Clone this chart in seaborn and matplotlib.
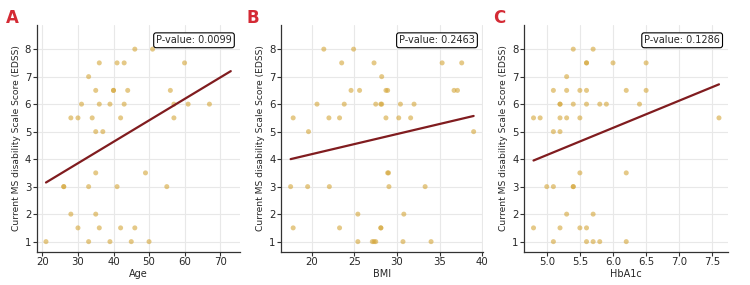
import matplotlib
matplotlib.use("Agg")
import matplotlib.pyplot as plt
import seaborn as sns
import numpy as np
import pandas as pd

#  Data 
age = [21, 26, 26, 28, 28, 30, 30, 31, 33, 33, 33, 34, 35, 35, 35, 35, 36, 36,
       36, 37, 39, 39, 40, 40, 41, 41, 42, 42, 43, 43, 44, 45, 46, 46, 49, 50,
       51, 55, 56, 57, 57, 60, 61, 67]
edss_age = [1, 3, 3, 2, 5.5, 1.5, 5.5, 6, 7, 3, 1, 5.5, 6.5, 5, 3.5, 2, 7.5, 6,
            1.5, 5, 6, 1, 6.5, 6.5, 7.5, 3, 5.5, 1.5, 7.5, 6, 6.5, 1, 8, 1.5,
            3.5, 1, 8, 3, 6.5, 6, 5.5, 7.5, 6, 6]

bmi = [17.5, 17.8, 17.8, 19.5, 19.6, 20.6, 21.4, 22.0, 22.05, 23.25, 23.25,
       23.5, 23.8, 24.6, 24.9, 25.4, 25.4, 25.6, 27.1, 27.3, 27.5, 27.3, 27.5,
       28.1, 28.2, 28.1, 28.1, 28.2, 28.7, 28.7, 28.9, 28.9, 29.0, 29.05, 30.2,
       30.4, 30.7, 30.8, 31.6, 32.0, 33.3, 34.0, 35.3, 36.7, 37.1, 37.6, 39.0]
edss_bmi = [3, 5.5, 1.5, 3, 5, 6, 8, 5.5, 3, 5.5, 1.5,
            7.5, 6, 6.5, 8, 2, 1, 6.5, 1, 1, 1, 7.5, 6,
            6, 6, 1.5, 1.5, 7, 5.5, 6.5, 6.5, 3.5, 3.5, 3, 5.5,
            6, 1, 2, 5.5, 6, 3, 1, 7.5, 6.5, 6.5, 7.5, 5]

hba1c = [4.8, 4.8, 4.9, 5.0, 5.1, 5.1, 5.1, 5.1, 5.2, 5.2, 5.2, 5.2, 5.2, 5.3,
         5.3, 5.3, 5.3, 5.4, 5.4, 5.4, 5.4, 5.5, 5.5, 5.5, 5.5, 5.6, 5.6, 5.6,
         5.6, 5.6, 5.6, 5.7, 5.7, 5.7, 5.8, 5.8, 5.9, 6.0, 6.2, 6.2, 6.2, 6.4,
         6.5, 6.5, 7.6]
edss_hba1c = [5.5, 1.5, 5.5, 3, 6.5, 5, 3, 1, 6, 6, 5.5, 5, 1.5, 7,
              6.5, 5.5, 2, 8, 6, 3, 3, 6.5, 5.5, 3.5, 1.5, 7.5, 7.5, 6.5,
              6, 1.5, 1, 8, 2, 1, 6, 1, 6, 7.5, 6.5, 3.5, 1, 6,
              7.5, 6.5, 5.5]

# fitted lines (end points)
age_fit_x, age_fit_y = [21, 73], [3.15, 7.2]
bmi_fit_x, bmi_fit_y = [17.5, 39.0], [4.0, 5.57]
hba1c_fit_x, hba1c_fit_y = [4.8, 7.6], [3.95, 6.72]

p_values = ["0.0099", "0.2463", "0.1286"]
x_labels = ["Age", "BMI", "HbA1c"]
panel_letters = ["A", "B", "C"]

#  Plot 
sns.set_theme(style="whitegrid")
plt.rcParams["font.family"] = ["DejaVu Sans"]

fig = plt.figure(figsize=(7.5, 2.85), dpi=100)
positions = [[0.049, 0.116, 0.271, 0.796],
             [0.375, 0.116, 0.269, 0.796],
             [0.699, 0.116, 0.272, 0.796]]
xlims = [(18.4, 75.6), (16.4, 40.1), (4.66, 7.74)]
xticks = [[20, 30, 40, 50, 60, 70], [20, 25, 30, 35, 40],
          [5.0, 5.5, 6.0, 6.5, 7.0, 7.5]]
panels = [(age, edss_age, age_fit_x, age_fit_y),
          (bmi, edss_bmi, bmi_fit_x, bmi_fit_y),
          (hba1c, edss_hba1c, hba1c_fit_x, hba1c_fit_y)]
letter_x = [0.008, 0.328, 0.657]

for i, (xs, ys, fx, fy) in enumerate(panels):
    ax = fig.add_axes(positions[i])
    sns.scatterplot(x=xs, y=ys, ax=ax, color="#d4a537", alpha=0.6,
                    s=13, edgecolor="none")
    sns.lineplot(x=fx, y=fy, ax=ax, color="#801c1f", linewidth=1.6)
    ax.set_xlim(*xlims[i])
    ax.set_ylim(0.625, 8.875)
    ax.set_xticks(xticks[i])
    if i == 2:
        ax.set_xticklabels([f"{t:.1f}" for t in xticks[i]])
    ax.set_yticks(range(1, 9))
    ax.set_xlabel(x_labels[i], fontsize=7, labelpad=1)
    ax.set_ylabel("Current MS disability Scale Score (EDSS)", fontsize=6.6,
                  labelpad=3)
    ax.tick_params(labelsize=7.3, length=3, width=0.8, color="#333333", pad=1,
                   left=True, bottom=True)
    ax.grid(True, color="#e8e8e8", linewidth=0.8)
    for side in ["top", "right"]:
        ax.spines[side].set_visible(False)
    for side in ["left", "bottom"]:
        ax.spines[side].set_color("#333333")
        ax.spines[side].set_linewidth(0.9)
    ax.text(0.96, 0.955, f"P-value: {p_values[i]}", transform=ax.transAxes,
            ha="right", va="top", fontsize=7,
            bbox=dict(boxstyle="round,pad=0.25", facecolor="white",
                      edgecolor="black", linewidth=0.8))
    fig.text(letter_x[i], 0.97, panel_letters[i], fontsize=12,
             fontweight="bold", color="#d42a34", ha="left", va="top")

fig.savefig("out.png", dpi=100)
